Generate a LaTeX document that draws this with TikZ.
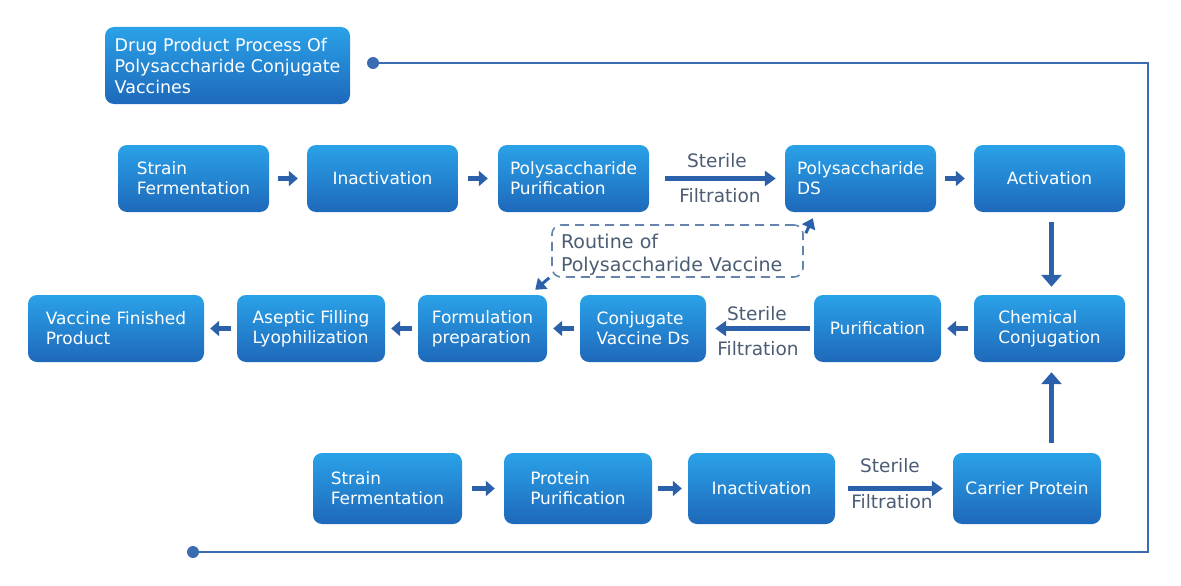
\documentclass[tikz,border=0pt]{standalone}
\usepackage{fontspec}
\setmainfont{DejaVu Sans}
\usetikzlibrary{arrows.meta}
\definecolor{boxtop}{RGB}{42,162,232}
\definecolor{boxbot}{RGB}{30,104,186}
\definecolor{arrowblue}{RGB}{43,96,170}
\definecolor{frameblue}{RGB}{58,108,178}
\definecolor{labelgray}{RGB}{75,92,115}
\definecolor{dashblue}{RGB}{100,132,172}
\tikzset{
 procbox/.style={rounded corners=9pt, top color=boxtop, bottom color=boxbot, draw=none, text=white, align=left, font=\fontsize{17}{20}\selectfont, inner sep=0pt, minimum height=67pt},
 smallarrow/.style={draw=arrowblue, line width=5.5pt, -{Triangle[length=9pt,width=15pt]}},
 longarrow/.style={draw=arrowblue, line width=4.5pt, -{Triangle[length=11pt,width=15pt]}},
 vertarrow/.style={draw=arrowblue, line width=5.5pt, -{Triangle[length=12pt,width=20pt]}},
 dasharrow/.style={draw=arrowblue, line width=3pt, -{Triangle[length=10pt,width=14pt]}},
 steplabel/.style={text=labelgray, font=\fontsize{18.5}{22}\selectfont, inner sep=0pt},
 frameline/.style={draw=frameblue, line width=2pt},
 dotend/.style={circle, fill=frameblue, minimum size=12pt, inner sep=0pt},
}
\begin{document}
\begin{tikzpicture}[x=1pt,y=-1pt]
\useasboundingbox (0,0) rectangle (1181,586);
% title
\node[procbox, minimum width=245pt, minimum height=77pt, font=\fontsize{17.5}{21}\selectfont] (title) at (227.5,65.5) {Drug Product Process Of\\Polysaccharide Conjugate\\Vaccines};
% frame
\node[dotend] (tdot) at (373,63) {};
\node[dotend] (bdot) at (193,552) {};
\coordinate (fr1) at (1148,63);
\coordinate (fr2) at (1148,552);
\draw[frameline] (tdot.center) -- (fr1) -- (fr2) -- (bdot.center);
% row 1
\node[procbox, minimum width=151pt] (s1) at (193.5,178.5) {Strain\\Fermentation};
\node[procbox, minimum width=151pt] (in1) at (382.5,178.5) {Inactivation};
\node[procbox, minimum width=151pt] (pp) at (573.5,178.5) {Polysaccharide\\Purification};
\node[procbox, minimum width=151pt] (pds) at (860.5,178.5) {Polysaccharide\\DS};
\node[procbox, minimum width=151pt] (act) at (1049.5,178.5) {Activation};
% row 2
\node[procbox, minimum width=176pt] (vfp) at (116,328.5) {Vaccine Finished\\Product};
\node[procbox, minimum width=148pt] (afl) at (311,328.5) {Aseptic Filling\\Lyophilization};
\node[procbox, minimum width=129pt] (fp) at (482.5,328.5) {Formulation\\preparation};
\node[procbox, minimum width=126pt] (cvd) at (643,328.5) {Conjugate\\Vaccine Ds};
\node[procbox, minimum width=127pt] (pur) at (877.5,328.5) {Purification};
\node[procbox, minimum width=151pt] (cc) at (1049.5,328.5) {Chemical\\Conjugation};
% row 3
\node[procbox, minimum width=149pt, minimum height=71pt] (s3) at (387.5,488.5) {Strain\\Fermentation};
\node[procbox, minimum width=148pt, minimum height=71pt] (prp) at (578,488.5) {Protein\\Purification};
\node[procbox, minimum width=147pt, minimum height=71pt] (in3) at (761.5,488.5) {Inactivation};
\node[procbox, minimum width=148pt, minimum height=71pt] (car) at (1027,488.5) {Carrier Protein};
% dashed routine box
\node[draw=dashblue, line width=1.6pt, dash pattern=on 9pt off 6pt, rounded corners=9pt, minimum width=251pt, minimum height=52pt, inner sep=0pt] (rtbox) at (677.5,251) {};
\node[inner sep=0pt, text width=233pt, align=left, text=labelgray, font=\fontsize{19}{23}\selectfont] (rt) at (677.5,255) {Routine of\\Polysaccharide Vaccine};
% small arrows
\draw[smallarrow, shorten <=9pt, shorten >=9pt] (s1) -- (in1);
\draw[smallarrow, shorten <=10pt, shorten >=10pt] (in1) -- (pp);
\draw[smallarrow, shorten <=9pt, shorten >=9pt] (pds) -- (act);
\draw[smallarrow, shorten <=6pt, shorten >=6pt] (cc) -- (pur);
\draw[smallarrow, shorten <=6pt, shorten >=6pt] (cvd) -- (fp);
\draw[smallarrow, shorten <=6pt, shorten >=6pt] (fp) -- (afl);
\draw[smallarrow, shorten <=6pt, shorten >=6pt] (afl) -- (vfp);
\draw[smallarrow, shorten <=10pt, shorten >=9pt] (s3) -- (prp);
\draw[smallarrow, shorten <=6pt, shorten >=6pt] (prp) -- (in3);
% sterile filtration arrows
\draw[longarrow, shorten <=16pt, shorten >=9pt] (pp) -- (pds);
\node[steplabel] (st1) at (717,161) {Sterile};
\node[steplabel] (fi1) at (720,196) {Filtration};
\draw[longarrow, shorten <=4pt, shorten >=9pt] (pur) -- (cvd);
\node[steplabel] (st2) at (757,314) {Sterile};
\node[steplabel] (fi2) at (758,349) {Filtration};
\draw[longarrow, shorten <=13pt, shorten >=10pt] (in3) -- (car);
\node[steplabel] (st3) at (890,466) {Sterile};
\node[steplabel] (fi3) at (892,502) {Filtration};
% vertical arrows
\draw[vertarrow, shorten <=10pt, shorten >=8pt] ([xshift=2pt]act.south) -- ([xshift=2pt]cc.north);
\coordinate (cv) at ([xshift=2pt]cc.south);
\draw[vertarrow, shorten <=10pt, shorten >=10pt] (car.north -| cv) -- (cv);
% routine arrows
\draw[dasharrow] ([shift={(2,9)}]rtbox.north east) -- ([shift={(28,6)}]pds.south west);
\draw[dasharrow] ([shift={(-2,0)}]rtbox.south west) -- ([shift={(-12,-5)}]fp.north east);
\end{tikzpicture}
\end{document}
